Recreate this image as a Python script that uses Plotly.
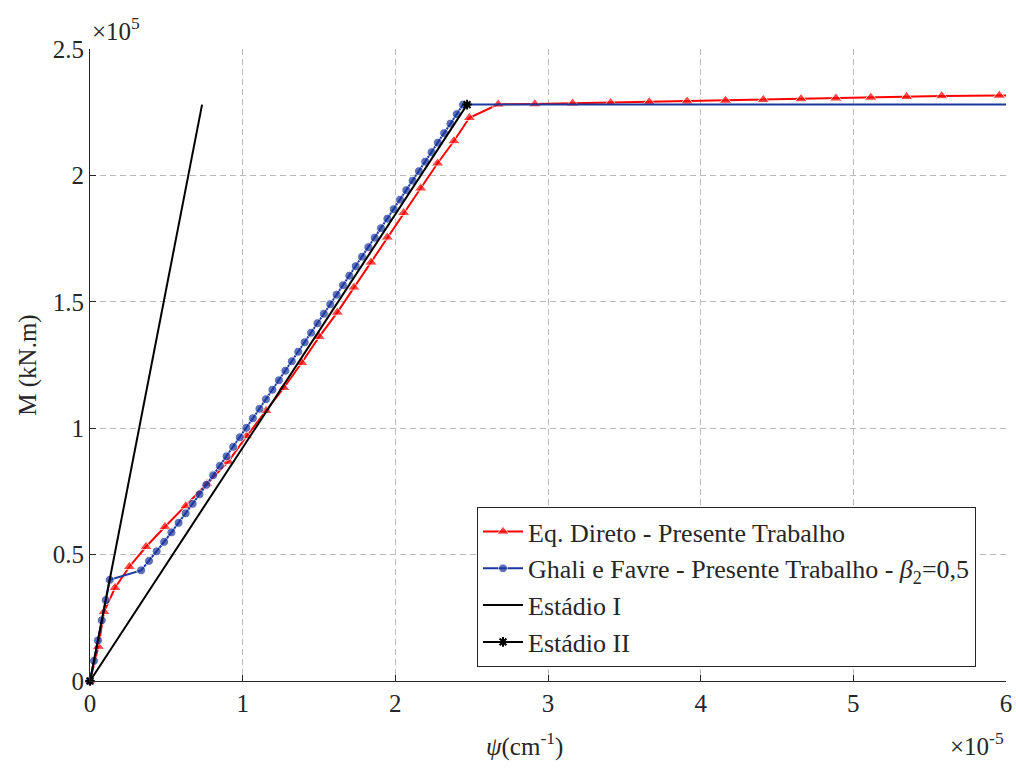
import plotly.graph_objects as go

# psi in units of 1e-5 cm^-1, M in units of 1e5 kN.m
red_psi = [0.0, 0.055, 0.092, 0.164, 0.258, 0.367, 0.491, 0.627, 0.766, 0.906, 1.026, 1.153,
           1.270, 1.387, 1.502, 1.620, 1.729, 1.841, 1.947, 2.055, 2.166, 2.277, 2.384, 2.485,
           2.674, 2.914, 3.161, 3.410, 3.663, 3.911, 4.163, 4.410, 4.657, 4.886, 5.114, 5.349,
           5.579, 5.956, 6.200]
red_M = [0.0, 0.136, 0.274, 0.369, 0.452, 0.531, 0.610, 0.692, 0.780, 0.868, 0.969, 1.069,
         1.160, 1.259, 1.362, 1.458, 1.557, 1.656, 1.755, 1.852, 1.949, 2.048, 2.136, 2.228,
         2.281, 2.282, 2.285, 2.287, 2.290, 2.293, 2.296, 2.299, 2.302, 2.305, 2.308, 2.311,
         2.314, 2.316, 2.318]

blue_psi = [0.0, 0.026, 0.052, 0.077, 0.103, 0.129,
            0.3349, 0.3866, 0.4367, 0.4856, 0.5334, 0.5804, 0.6266, 0.6723, 0.7174, 0.7622,
            0.8065, 0.8506, 0.8943, 0.9378, 0.9811, 1.0242, 1.0672, 1.1099, 1.1526, 1.1951,
            1.2375, 1.2798, 1.3220, 1.3641, 1.4062, 1.4481, 1.4900, 1.5319, 1.5737, 1.6154,
            1.6571, 1.6988, 1.7404, 1.7819, 1.8234, 1.8649, 1.9064, 1.9478, 1.9892, 2.0306,
            2.0720, 2.1133, 2.1546, 2.1959, 2.2371, 2.2784, 2.3196, 2.3608, 2.4020, 2.4432,
            6.500]
blue_M = [0.0, 0.08, 0.16, 0.24, 0.32, 0.40,
          0.4376, 0.4752, 0.5128, 0.5504, 0.5880, 0.6256, 0.6632, 0.7008, 0.7384, 0.7760,
          0.8136, 0.8512, 0.8888, 0.9264, 0.9640, 1.0016, 1.0392, 1.0768, 1.1144, 1.1520,
          1.1896, 1.2272, 1.2648, 1.3024, 1.3400, 1.3776, 1.4152, 1.4528, 1.4904, 1.5280,
          1.5656, 1.6032, 1.6408, 1.6784, 1.7160, 1.7536, 1.7912, 1.8288, 1.8664, 1.9040,
          1.9416, 1.9792, 2.0168, 2.0544, 2.0920, 2.1296, 2.1672, 2.2048, 2.2424, 2.2800,
          2.2800]

est1_psi = [0.0, 0.734]
est1_M = [0.0, 2.28]
est2_psi = [0.0, 2.47]
est2_M = [0.0, 2.28]

x_ticks = [0, 1, 2, 3, 4, 5, 6]
x_ticktext = ["0", "1", "2", "3", "4", "5", "6"]
y_ticks = [0, 0.5, 1, 1.5, 2, 2.5]
y_ticktext = ["0", "0.5", "1", "1.5", "2", "2.5"]

names = ["Eq. Direto - Presente Trabalho",
         "Ghali e Favre - Presente Trabalho - <i>β</i><sub>2</sub>=0,5",
         "Estádio I",
         "Estádio II"]

FONT = "Liberation Serif, Times New Roman, DejaVu Serif, serif"
TXT = "#262626"
RED = "#ff0000"
BLUE = "#1c389e"
FS = 25

fig = go.Figure()

red_sizes = [11] * (len(red_psi) - 1) + [0]
fig.add_trace(go.Scatter(x=red_psi, y=red_M, mode="lines+markers", name=names[0],
                         line=dict(color=RED, width=2),
                         marker=dict(symbol="triangle-up", size=red_sizes, color=RED),
                         cliponaxis=False))

blue_sizes = [9] * (len(blue_psi) - 1) + [0]
fig.add_trace(go.Scatter(x=blue_psi, y=blue_M, mode="lines+markers", name=names[1],
                         line=dict(color=BLUE, width=2),
                         marker=dict(symbol="circle", size=blue_sizes, color=BLUE),
                         cliponaxis=False))

fig.add_trace(go.Scatter(x=est1_psi, y=est1_M, mode="lines", name=names[2],
                         line=dict(color="black", width=2), cliponaxis=False))

fig.add_trace(go.Scatter(x=est2_psi, y=est2_M, mode="lines+markers", name=names[3],
                         line=dict(color="black", width=2),
                         marker=dict(symbol="asterisk", size=8, color="black",
                                     line=dict(color="black", width=2)),
                         cliponaxis=False))

axis_common = dict(showgrid=True, gridcolor="#bababa", griddash="6px,4px", gridwidth=1,
                   zeroline=False, showline=True, linecolor=TXT, linewidth=1,
                   ticks="inside", ticklen=6, tickcolor=TXT,
                   ticklabeloverflow="allow",
                   tickfont=dict(family=FONT, size=FS, color=TXT))

fig.update_xaxes(range=[0, 6], tickvals=x_ticks, ticktext=x_ticktext, **axis_common)
fig.update_yaxes(range=[0, 2.5], tickvals=y_ticks, ticktext=y_ticktext, **axis_common)

fig.update_layout(
    width=1016, height=769,
    margin=dict(l=90, r=10, t=49, b=88, autoexpand=False),
    paper_bgcolor="white", plot_bgcolor="white",
    font=dict(family=FONT, size=FS, color=TXT),
    showlegend=True,
    legend=dict(x=0.4225, y=0.022, xanchor="left", yanchor="bottom",
                bgcolor="white", bordercolor=TXT, borderwidth=1,
                font=dict(family=FONT, size=26, color=TXT),
                tracegroupgap=0, itemwidth=40),
    annotations=[
        dict(text="<i>ψ</i>(cm<sup>-1</sup>)", x=0.474, y=-0.1, xref="paper", yref="paper",
             xanchor="center", yanchor="middle", showarrow=False,
             font=dict(family=FONT, size=FS, color=TXT)),
        dict(text="M (kN.m)", x=-0.068, y=0.5, xref="paper", yref="paper", textangle=-90,
             xanchor="center", yanchor="middle", showarrow=False,
             font=dict(family=FONT, size=FS, color=TXT)),
        dict(text="×10<sup>5</sup>", x=0.0, y=1.0, xref="paper", yref="paper",
             xanchor="left", yanchor="bottom", showarrow=False, yshift=2,
             font=dict(family=FONT, size=FS, color=TXT)),
        dict(text="×10<sup>-5</sup>", x=1.0, y=-0.1, xref="paper", yref="paper",
             xanchor="right", yanchor="middle", showarrow=False,
             font=dict(family=FONT, size=FS, color=TXT)),
    ],
)

fig.write_html("out.html", config={"displayModeBar": False},
               post_script="document.body.style.margin='0';")
